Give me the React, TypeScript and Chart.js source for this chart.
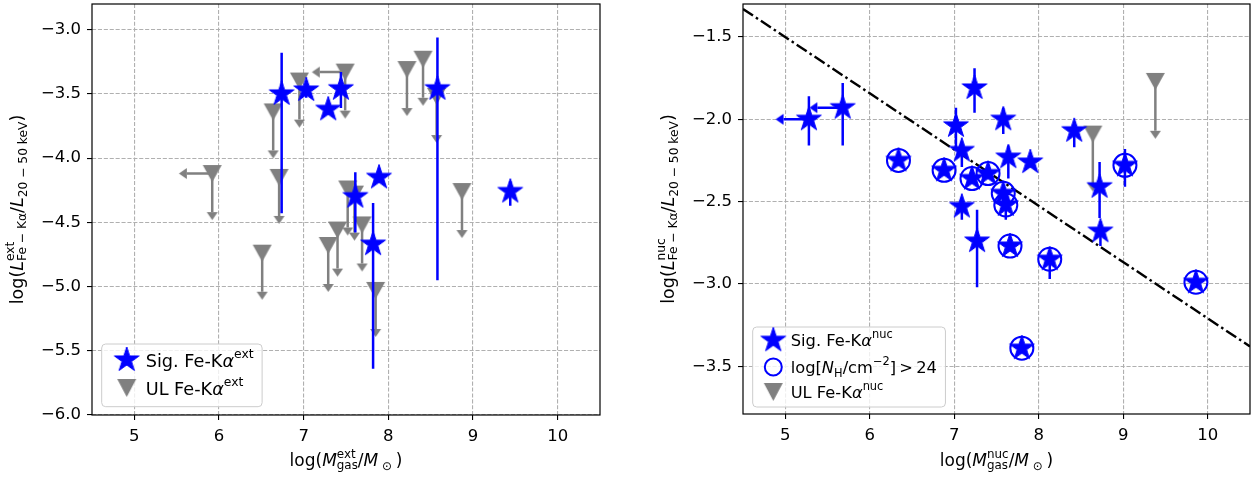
import React, { useEffect, useRef } from "react";
import { Chart, registerables } from "chart.js";

Chart.register(...registerables);

const FONT = '"DejaVu Sans", sans-serif';
const BLUE = "#0000ff";
const GRAY = "#808080";
const LIMIT_LEN = 0.3;

// ---------- Left panel: extended gas ----------
const EXT_X_TICKS = [5, 6, 7, 8, 9, 10];
const EXT_Y_TICKS = [-3.0, -3.5, -4.0, -4.5, -5.0, -5.5, -6.0];
const sigExtX = [6.74, 7.03, 7.29, 7.44, 8.58, 7.89, 9.44, 7.61, 7.82];
const sigExtY = [-3.5, -3.47, -3.62, -3.46, -3.46, -4.15, -4.26, -4.3, -4.67];
const sigExtErrUp = [0.32, 0.04, 0.04, 0.13, 0.4, 0.04, 0.08, 0.19, 0.32];
const sigExtErrDn = [0.93, 0.06, 0.04, 0.15, 1.49, 0.04, 0.11, 0.28, 0.97];
const sigExtXUL = [0, 0, 0, 0, 0, 0, 0, 0, 0];
const ulExtX = [6.95, 7.49, 8.22, 8.41, 8.57, 6.64, 5.92, 6.71, 7.52, 7.6, 8.87, 7.69, 7.4, 7.29, 6.51, 7.85];
const ulExtY = [-3.4, -3.33, -3.31, -3.23, -3.52, -3.64, -4.12, -4.15, -4.24, -4.28, -4.26, -4.52, -4.56, -4.68, -4.74, -5.03];
const ulExtXUL = [0, 1, 0, 0, 0, 0, 1, 0, 0, 0, 0, 0, 0, 0, 0, 0];

// ---------- Right panel: nuclear gas ----------
const NUC_X_TICKS = [5, 6, 7, 8, 9, 10];
const NUC_Y_TICKS = [-1.5, -2.0, -2.5, -3.0, -3.5];
const sigNucX = [5.28, 5.68, 7.24, 7.02, 7.58, 7.09, 7.64, 7.9, 8.42, 8.72, 8.73, 7.09, 7.27, 6.34, 6.88, 7.21, 7.4, 7.58, 7.61, 9.02, 7.66, 8.13, 9.86, 7.8];
const sigNucY = [-2.0, -1.93, -1.81, -2.04, -2.0, -2.19, -2.23, -2.26, -2.07, -2.41, -2.68, -2.53, -2.74, -2.25, -2.31, -2.36, -2.33, -2.45, -2.52, -2.28, -2.77, -2.85, -2.99, -3.39];
const sigNucErrUp = [0.14, 0.15, 0.12, 0.11, 0.07, 0.05, 0.07, 0.03, 0.05, 0.15, 0.06, 0.05, 0.19, 0.03, 0.03, 0.03, 0.03, 0.05, 0.05, 0.1, 0.03, 0.05, 0.03, 0.03];
const sigNucErrDn = [0.16, 0.23, 0.15, 0.13, 0.09, 0.1, 0.13, 0.03, 0.1, 0.19, 0.09, 0.08, 0.28, 0.03, 0.03, 0.03, 0.03, 0.05, 0.09, 0.13, 0.03, 0.12, 0.03, 0.03];
const sigNucXUL = [1, 1, 0, 0, 0, 0, 0, 0, 0, 0, 0, 0, 0, 0, 0, 0, 0, 0, 0, 0, 0, 0, 0, 0];
const nucNH24 = [0, 0, 0, 0, 0, 0, 0, 0, 0, 0, 0, 0, 0, 1, 1, 1, 1, 1, 1, 1, 1, 1, 1, 1];
const ulNucX = [9.38, 8.64];
const ulNucY = [-1.77, -2.09];
const ulNucXUL = [0, 0];
const refLineX = [4.5, 10.5];
const refLineY = [-1.33, -3.38];

// ---------- Text (mathtext-like pieces) ----------
type Piece = [string, string]; // [text, mode] mode: '' | 'i' | '^' | '_' | '^_'
const extXTitle: Piece[] = [["log(", ""], ["M", "i"], ["ext|gas", "^_"], ["/", ""], ["M", "i"], [" ⊙ ", "_"], [")", ""]];
const nucXTitle: Piece[] = [["log(", ""], ["M", "i"], ["nuc|gas", "^_"], ["/", ""], ["M", "i"], [" ⊙ ", "_"], [")", ""]];
const extYTitle: Piece[] = [["log(", ""], ["L", "i"], ["ext|Fe − Kα", "^_"], ["/", ""], ["L", "i"], ["20 − 50 keV", "_"], [")", ""]];
const nucYTitle: Piece[] = [["log(", ""], ["L", "i"], ["nuc|Fe − Kα", "^_"], ["/", ""], ["L", "i"], ["20 − 50 keV", "_"], [")", ""]];
const extLegend: { m: string; t: Piece[] }[] = [
  { m: "star", t: [["Sig. Fe-K", ""], ["α", "i"], ["ext", "^"]] },
  { m: "tri", t: [["UL Fe-K", ""], ["α", "i"], ["ext", "^"]] },
];
const nucLegend: { m: string; t: Piece[] }[] = [
  { m: "star", t: [["Sig. Fe-K", ""], ["α", "i"], ["nuc", "^"]] },
  { m: "circle", t: [["log[", ""], ["N", "i"], ["H", "_"], ["/cm", ""], ["−2", "^"], ["]\u2009>\u200924", ""]] },
  { m: "tri", t: [["UL Fe-K", ""], ["α", "i"], ["nuc", "^"]] },
];

function pf(size: number, italic: boolean) {
  return `${italic ? "italic " : ""}${size}px ${FONT}`;
}
function measurePiece(ctx: CanvasRenderingContext2D, p: Piece, size: number) {
  const [t, m] = p;
  if (m === "^_") {
    const [a, b] = t.split("|");
    ctx.font = pf(size * 0.7, false);
    return Math.max(ctx.measureText(a).width, ctx.measureText(b).width);
  }
  if (m === "^" || m === "_") {
    ctx.font = pf(size * 0.7, false);
    return ctx.measureText(t).width;
  }
  ctx.font = pf(size, m === "i");
  return ctx.measureText(t).width;
}
function drawRich(ctx: CanvasRenderingContext2D, pieces: Piece[], x: number, y: number, size: number, angle: number, center: boolean) {
  ctx.save();
  ctx.translate(x, y);
  ctx.rotate(angle);
  ctx.textBaseline = "alphabetic";
  ctx.textAlign = "left";
  ctx.fillStyle = "#000";
  const widths = pieces.map((p) => measurePiece(ctx, p, size));
  const total = widths.reduce((s, w) => s + w, 0);
  let cx = center ? -total / 2 : 0;
  pieces.forEach((p, i) => {
    const [t, m] = p;
    if (m === "^_") {
      const [a, b] = t.split("|");
      ctx.font = pf(size * 0.7, false);
      ctx.fillText(a, cx, -size * 0.5);
      ctx.fillText(b, cx, size * 0.18);
    } else if (m === "^") {
      ctx.font = pf(size * 0.7, false);
      ctx.fillText(t, cx, -size * 0.5);
    } else if (m === "_") {
      ctx.font = pf(size * 0.7, false);
      ctx.fillText(t, cx, size * 0.22);
    } else {
      ctx.font = pf(size, m === "i");
      ctx.fillText(t, cx, 0);
    }
    cx += widths[i];
  });
  ctx.restore();
  return total;
}

// ---------- Marker images ----------
function mk(w: number, h: number) {
  const c = document.createElement("canvas");
  c.width = w;
  c.height = h;
  return c;
}
function starImg(R: number, color: string) {
  const s = Math.ceil(2 * R) + 4;
  const c = mk(s, s);
  const g = c.getContext("2d")!;
  const cx = s / 2, cy = s / 2, r = R * 0.381966;
  g.beginPath();
  for (let k = 0; k < 10; k++) {
    const a = -Math.PI / 2 + (k * Math.PI) / 5;
    const rr = k % 2 === 0 ? R : r;
    const px = cx + rr * Math.cos(a), py = cy + rr * Math.sin(a);
    if (k === 0) g.moveTo(px, py);
    else g.lineTo(px, py);
  }
  g.closePath();
  g.fillStyle = color;
  g.fill();
  g.lineWidth = 1;
  g.strokeStyle = color;
  g.stroke();
  return c;
}
function triDownImg(w: number, h: number, color: string) {
  const c = mk(w + 2, h + 2);
  const g = c.getContext("2d")!;
  g.beginPath();
  g.moveTo(1, 1);
  g.lineTo(w + 1, 1);
  g.lineTo(w / 2 + 1, h + 1);
  g.closePath();
  g.fillStyle = color;
  g.fill();
  return c;
}
function caretDownImg(w: number, h: number, color: string) {
  const c = mk(w + 2, 2 * h + 2);
  const g = c.getContext("2d")!;
  g.beginPath();
  g.moveTo(1, h + 1);
  g.lineTo(w + 1, h + 1);
  g.lineTo(w / 2 + 1, 2 * h + 1);
  g.closePath();
  g.fillStyle = color;
  g.fill();
  return c;
}
function caretLeftImg(w: number, h: number, color: string) {
  const c = mk(2 * h + 2, w + 2);
  const g = c.getContext("2d")!;
  g.beginPath();
  g.moveTo(h + 1, 1);
  g.lineTo(h + 1, w + 1);
  g.lineTo(1, w / 2 + 1);
  g.closePath();
  g.fillStyle = color;
  g.fill();
  return c;
}

interface LegendGeom {
  left: number;
  top: number;
  bottom: number;
  rows: number[];
  markerX: number;
  textX: number;
  fs: number;
}
interface PanelSpec {
  W: number;
  H: number;
  xMin: number; xMax: number; yMin: number; yMax: number;
  xTicks: number[]; yTicks: number[];
  area: { left: number; right: number; top: number; bottom: number };
  sigX: number[]; sigY: number[]; sigUp: number[]; sigDn: number[]; sigXUL: number[];
  circ?: number[];
  ulX: number[]; ulY: number[]; ulXUL: number[];
  lineX?: number[]; lineY?: number[];
  xTitle: Piece[]; yTitle: Piece[]; yTitleX: number; xTitleY: number;
  legend: { m: string; t: Piece[] }[];
  lg: LegendGeom;
}

function buildConfig(p: PanelSpec): any {
  const star = starImg(13, BLUE);
  const tri = triDownImg(19, 17, GRAY);
  const grayCaretDown = caretDownImg(11, 8, GRAY);
  const grayCaretLeft = caretLeftImg(11, 8, GRAY);
  const blueCaretLeft = caretLeftImg(11, 8, BLUE);

  const starPts = p.sigX.map((x, i) => ({ x, y: p.sigY[i] }));
  const errSeg: any[] = [];
  p.sigX.forEach((x, i) => {
    errSeg.push({ x, y: p.sigY[i] + p.sigUp[i] }, { x, y: p.sigY[i] - p.sigDn[i] }, { x, y: null });
    if (p.sigXUL[i]) errSeg.push({ x, y: p.sigY[i] }, { x: x - LIMIT_LEN, y: p.sigY[i] }, { x, y: null });
  });
  const blueLeftHeads = p.sigX
    .map((x, i) => (p.sigXUL[i] ? { x: x - LIMIT_LEN, y: p.sigY[i] } : null))
    .filter(Boolean);
  const ulPts = p.ulX.map((x, i) => ({ x, y: p.ulY[i] }));
  const ulSeg: any[] = [];
  p.ulX.forEach((x, i) => {
    ulSeg.push({ x, y: p.ulY[i] }, { x, y: p.ulY[i] - LIMIT_LEN }, { x, y: null });
    if (p.ulXUL[i]) ulSeg.push({ x, y: p.ulY[i] }, { x: x - LIMIT_LEN, y: p.ulY[i] }, { x, y: null });
  });
  const ulDownHeads = p.ulX.map((x, i) => ({ x, y: p.ulY[i] - LIMIT_LEN }));
  const ulLeftHeads = p.ulX
    .map((x, i) => (p.ulXUL[i] ? { x: x - LIMIT_LEN, y: p.ulY[i] } : null))
    .filter(Boolean);

  const datasets: any[] = [
    { type: "scatter", data: starPts, pointStyle: star, pointRadius: 12, order: 0 },
    { type: "line", data: errSeg, borderColor: BLUE, borderWidth: 2.5, pointRadius: 0, spanGaps: false, fill: false, order: 2 },
    { type: "scatter", data: blueLeftHeads, pointStyle: blueCaretLeft, pointRadius: 6, order: 2 },
    { type: "scatter", data: ulPts, pointStyle: tri, pointRadius: 10, order: 3 },
    { type: "line", data: ulSeg, borderColor: GRAY, borderWidth: 2.5, pointRadius: 0, spanGaps: false, fill: false, order: 4 },
    { type: "scatter", data: ulDownHeads, pointStyle: grayCaretDown, pointRadius: 6, order: 4 },
    { type: "scatter", data: ulLeftHeads, pointStyle: grayCaretLeft, pointRadius: 6, order: 4 },
  ];
  if (p.circ) {
    const circPts = p.sigX.map((x, i) => (p.circ![i] ? { x, y: p.sigY[i] } : null)).filter(Boolean);
    datasets.push({
      type: "scatter",
      data: circPts,
      pointStyle: "circle",
      pointRadius: 11.5,
      borderWidth: 2,
      borderColor: BLUE,
      backgroundColor: "rgba(0,0,0,0)",
      order: 1,
    });
  }
  if (p.lineX && p.lineY) {
    datasets.push({
      type: "line",
      data: p.lineX.map((x, i) => ({ x, y: p.lineY![i] })),
      borderColor: "#000",
      borderWidth: 2.4,
      borderDash: [12, 3.5, 2.5, 3.5],
      pointRadius: 0,
      fill: false,
      order: 5,
    });
  }

  const tickFont = { family: FONT, size: 16.5 };
  const grid = {
    color: "#b0b0b0",
    lineWidth: 1.1,
    drawTicks: true,
    tickLength: 5,
    tickColor: "#000",
    tickWidth: 1.1,
  };
  const border = { display: false, dash: [4.1, 1.8] };

  const deco = {
    id: "deco",
    afterDraw(chart: any) {
      const ctx: CanvasRenderingContext2D = chart.ctx;
      const a = chart.chartArea;
      ctx.save();
      ctx.strokeStyle = "#000";
      ctx.lineWidth = 1.2;
      ctx.strokeRect(a.left, a.top, a.right - a.left, a.bottom - a.top);
      drawRich(ctx, p.xTitle, (a.left + a.right) / 2, p.xTitleY, 17, 0, true);
      drawRich(ctx, p.yTitle, p.yTitleX, (a.top + a.bottom) / 2, 17.5, -Math.PI / 2, true);

      // legend
      const g = p.lg;
      const fs = g.fs;
      let maxW = 0;
      p.legend.forEach((row) => {
        maxW = Math.max(maxW, row.t.reduce((s, pc) => s + measurePiece(ctx, pc, fs), 0));
      });
      const bl = a.left + g.left;
      const bt = a.bottom + g.top;
      const bb = a.bottom + g.bottom;
      const br = a.left + g.textX + maxW + 8.5;
      ctx.beginPath();
      (ctx as any).roundRect(bl, bt, br - bl, bb - bt, 4);
      ctx.fillStyle = "rgba(255,255,255,0.8)";
      ctx.fill();
      ctx.strokeStyle = "#cccccc";
      ctx.lineWidth = 1;
      ctx.stroke();
      p.legend.forEach((row, i) => {
        const cy = a.bottom + g.rows[i];
        const mx = a.left + g.markerX;
        if (row.m === "star") {
          ctx.drawImage(star, mx - star.width / 2, cy - star.height / 2);
        } else if (row.m === "tri") {
          const t2 = triDownImg(19, 18, GRAY);
          ctx.drawImage(t2, mx - t2.width / 2, cy - t2.height / 2);
        } else if (row.m === "circle") {
          ctx.beginPath();
          ctx.arc(mx, cy, 8.5, 0, Math.PI * 2);
          ctx.strokeStyle = BLUE;
          ctx.lineWidth = 2;
          ctx.stroke();
        }
        drawRich(ctx, row.t, a.left + g.textX, cy + fs * 0.37, fs, 0, false);
      });
      ctx.restore();
    },
  };

  return {
    type: "scatter",
    data: { datasets },
    options: {
      animation: false,
      responsive: false,
      devicePixelRatio: 1,
      events: [],
      layout: { autoPadding: false, padding: { left: 0, right: p.W - p.area.right, top: p.area.top, bottom: 0 } },
      plugins: { legend: { display: false }, tooltip: { enabled: false } },
      scales: {
        x: {
          type: "linear",
          min: p.xMin,
          max: p.xMax,
          afterBuildTicks: (s: any) => {
            s.ticks = p.xTicks.map((v) => ({ value: v }));
          },
          afterFit: (s: any) => {
            s.height = p.H - p.area.bottom;
            s.paddingLeft = 0;
            s.paddingRight = 0;
          },
          ticks: {
            callback: (v: any) => String(v),
            color: "#000",
            font: tickFont,
            padding: 7,
            maxRotation: 0,
            autoSkip: false,
          },
          grid,
          border,
        },
        y: {
          type: "linear",
          min: p.yMin,
          max: p.yMax,
          afterBuildTicks: (s: any) => {
            s.ticks = p.yTicks.map((v) => ({ value: v }));
          },
          afterFit: (s: any) => {
            s.width = p.area.left;
            s.paddingTop = 0;
            s.paddingBottom = 0;
          },
          ticks: {
            callback: (v: any) => Number(v).toFixed(1).replace("-", "−"),
            color: "#000",
            font: tickFont,
            padding: 6,
            autoSkip: false,
          },
          grid,
          border,
        },
      },
    },
    plugins: [deco],
  };
}

const W = 629;
const H = 477;

export default function App() {
  const r1 = useRef<HTMLCanvasElement>(null);
  const r2 = useRef<HTMLCanvasElement>(null);
  useEffect(() => {
    const left: PanelSpec = {
      W, H,
      xMin: 4.5, xMax: 10.5, yMin: -6.0, yMax: -2.8,
      xTicks: EXT_X_TICKS, yTicks: EXT_Y_TICKS,
      area: { left: 92, right: 600, top: 4, bottom: 415 },
      sigX: sigExtX, sigY: sigExtY, sigUp: sigExtErrUp, sigDn: sigExtErrDn, sigXUL: sigExtXUL,
      ulX: ulExtX, ulY: ulExtY, ulXUL: ulExtXUL,
      xTitle: extXTitle, yTitle: extYTitle, yTitleX: 23, xTitleY: 466,
      legend: extLegend,
      lg: { left: 9.7, top: -71, bottom: -8.3, rows: [-55, -27], markerX: 34.7, textX: 53.7, fs: 17.7 },
    };
    const right: PanelSpec = {
      W, H,
      xMin: 4.5, xMax: 10.5, yMin: -3.79, yMax: -1.3,
      xTicks: NUC_X_TICKS, yTicks: NUC_Y_TICKS,
      area: { left: 114, right: 621, top: 4, bottom: 414 },
      sigX: sigNucX, sigY: sigNucY, sigUp: sigNucErrUp, sigDn: sigNucErrDn, sigXUL: sigNucXUL,
      circ: nucNH24,
      ulX: ulNucX, ulY: ulNucY, ulXUL: ulNucXUL,
      lineX: refLineX, lineY: refLineY,
      xTitle: nucXTitle, yTitle: nucYTitle, yTitleX: 45, xTitleY: 466,
      legend: nucLegend,
      lg: { left: 9.7, top: -87, bottom: -7, rows: [-73.7, -47, -22], markerX: 30.3, textX: 47.7, fs: 16.3 },
    };
    const c1 = new Chart(r1.current!, buildConfig(left));
    const c2 = new Chart(r2.current!, buildConfig(right));
    return () => {
      c1.destroy();
      c2.destroy();
    };
  }, []);
  return (
    <div style={{ position: "fixed", left: 0, top: 0, width: 1258, height: 477, background: "#fff" }}>
      <canvas ref={r1} width={W} height={H} style={{ position: "absolute", left: 0, top: 0, width: W, height: H }} />
      <canvas ref={r2} width={W} height={H} style={{ position: "absolute", left: 629, top: 0, width: W, height: H }} />
    </div>
  );
}
